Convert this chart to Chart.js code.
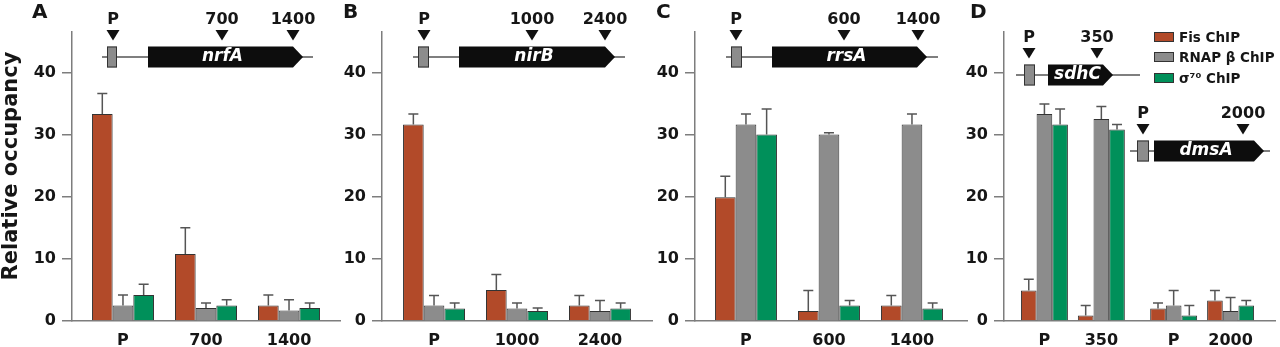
<!DOCTYPE html>
<html lang="en">
<head>
<meta charset="UTF-8">
<title>Relative occupancy – Fis, RNAP β and σ70 ChIP</title>
<script src="https://cdn.jsdelivr.net/npm/chart.js"></script>
<style>
  html, body { margin: 0; padding: 0; background: #fff; overflow: hidden; }
  #wrap { position: relative; width: 1280px; height: 347px; }
  #wrap canvas { position: absolute; left: 0; top: 0; }
</style>
</head>
<body>
<div id="wrap">
  <canvas id="chart-a" width="1280" height="347"></canvas>
  <canvas id="chart-b" width="1280" height="347"></canvas>
  <canvas id="chart-c" width="1280" height="347"></canvas>
  <canvas id="chart-d" width="1280" height="347"></canvas>
</div>
<script>
// series
const seriesNames = ['Fis ChIP', 'RNAP β ChIP', 'σ⁷⁰ ChIP'];
const seriesColors = ['#b24a29', '#8c8c8c', '#00905a'];
const yTicksMax = 40;

// panel A - nrfA
const labelsA = ['P', '700', '1400'];
const fisA = [33.3, 10.8, 2.5];
const rnapA = [2.5, 2.1, 1.7];
const sigmaA = [4.2, 2.5, 2.1];
const fisErrA = [3.3, 4.2, 1.7];
const rnapErrA = [1.7, 0.8, 1.7];
const sigmaErrA = [1.7, 0.9, 0.8];

// panel B - nirB
const labelsB = ['P', '1000', '2400'];
const fisB = [31.6, 5.0, 2.5];
const rnapB = [2.5, 2.0, 1.6];
const sigmaB = [2.0, 1.6, 2.0];
const fisErrB = [1.7, 2.5, 1.6];
const rnapErrB = [1.6, 0.9, 1.7];
const sigmaErrB = [0.9, 0.5, 0.9];

// panel C - rrsA
const labelsC = ['P', '600', '1400'];
const fisC = [19.9, 1.6, 2.5];
const rnapC = [31.6, 30.0, 31.6];
const sigmaC = [30.0, 2.5, 2.0];
const fisErrC = [3.4, 3.3, 1.6];
const rnapErrC = [1.7, 0.3, 1.7];
const sigmaErrC = [4.1, 0.8, 0.9];

// panel D - sdhC (P, 350) and dmsA (P, 2000)
const labelsD = ['P', '350', 'P', '2000'];
const fisD = [4.9, 0.9, 2.0, 3.3];
const rnapD = [33.3, 32.5, 2.5, 1.6];
const sigmaD = [31.6, 30.8, 0.9, 2.5];
const fisErrD = [1.8, 1.6, 0.9, 1.6];
const rnapErrD = [1.6, 2.0, 2.4, 2.2];
const sigmaErrD = [2.5, 0.8, 1.6, 0.8];

const FONT = 'DejaVu Sans';
const axisColor = '#7d7d7d';
const textColor = '#161616';

// layout of the four panels (page pixels)
const panels = [
  { id: 'chart-a', letter: 'A', letterX: 32, labels: labelsA,
    values: [fisA, rnapA, sigmaA], errors: [fisErrA, rnapErrA, sigmaErrA],
    axisLeft: 72, axisRight: 340, xMin: -0.614, xMax: 2.614, gap: 0, group: 0.747, yTitle: true,
    genes: [{ name: 'nrfA', y: 57, line: [102, 313], box: [107, 117], body: [148, 303],
              marks: [[113, 0], [222, 1], [293, 2]] }] },
  { id: 'chart-b', letter: 'B', letterX: 343, labels: labelsB,
    values: [fisB, rnapB, sigmaB], errors: [fisErrB, rnapErrB, sigmaErrB],
    axisLeft: 382, axisRight: 652, xMin: -0.627, xMax: 2.627, gap: 0, group: 0.747,
    genes: [{ name: 'nirB', y: 57, line: [413, 625], box: [418, 429], body: [459, 615],
              marks: [[424, 0], [532, 1], [605, 2]] }] },
  { id: 'chart-c', letter: 'C', letterX: 656, labels: labelsC,
    values: [fisC, rnapC, sigmaC], errors: [fisErrC, rnapErrC, sigmaErrC],
    axisLeft: 695, axisRight: 967, xMin: -0.614, xMax: 2.663, gap: 0, group: 0.747,
    genes: [{ name: 'rrsA', y: 57, line: [726, 938], box: [731, 742], body: [772, 927],
              marks: [[736, 0], [844, 1], [918, 2]] }] },
  { id: 'chart-d', letter: 'D', letterX: 970, labels: labelsD,
    values: [fisD, rnapD, sigmaD], errors: [fisErrD, rnapErrD, sigmaErrD],
    axisLeft: 1004, axisRight: 1275, xMin: -0.71, xMax: 4.05, gap: 0.27, group: 0.825, legend: true,
    genes: [{ name: 'sdhC', y: 75, line: [1016, 1140], box: [1024, 1035], body: [1048, 1113],
              marks: [[1029, 0], [1097, 1]] },
            { name: 'dmsA', y: 151, line: [1130, 1270], box: [1137, 1149], body: [1154, 1264],
              marks: [[1143, 2], [1243, 3]] }] }
];

const errorBarPlugin = {
  id: 'errorBars',
  afterDatasetsDraw(chart) {
    const ctx = chart.ctx;
    const yScale = chart.scales.y;
    ctx.save();
    ctx.strokeStyle = '#555';
    ctx.lineWidth = 1.5;
    chart.data.datasets.forEach((ds, di) => {
      chart.getDatasetMeta(di).data.forEach((bar, i) => {
        const top = yScale.getPixelForValue(ds.data[i].y + ds.errors[i]);
        ctx.beginPath();
        ctx.moveTo(bar.x, bar.y);
        ctx.lineTo(bar.x, top);
        ctx.moveTo(bar.x - 5, top);
        ctx.lineTo(bar.x + 5, top);
        ctx.stroke();
      });
    });
    ctx.restore();
  }
};

function drawGene(ctx, g, labels) {
  const y = g.y;
  ctx.strokeStyle = '#555';
  ctx.lineWidth = 1.5;
  ctx.beginPath();
  ctx.moveTo(g.line[0], y);
  ctx.lineTo(g.line[1], y);
  ctx.stroke();

  // promoter box
  ctx.fillStyle = '#8c8c8c';
  ctx.fillRect(g.box[0], y - 10.5, g.box[1] - g.box[0], 21);
  ctx.strokeStyle = '#333';
  ctx.lineWidth = 1;
  ctx.strokeRect(g.box[0] + 0.5, y - 10, g.box[1] - g.box[0] - 1, 20);

  // gene arrow
  const [b0, b1] = g.body;
  ctx.fillStyle = '#0d0d0d';
  ctx.beginPath();
  ctx.moveTo(b0, y - 10.5);
  ctx.lineTo(b1 - 10, y - 10.5);
  ctx.lineTo(b1, y);
  ctx.lineTo(b1 - 10, y + 10.5);
  ctx.lineTo(b0, y + 10.5);
  ctx.closePath();
  ctx.fill();
  ctx.fillStyle = '#fff';
  ctx.font = 'italic bold 17px ' + FONT;
  ctx.textAlign = 'center';
  ctx.textBaseline = 'middle';
  ctx.fillText(g.name, (b0 + b1 - 6) / 2, y);

  // primer position markers
  g.marks.forEach(([x, li]) => {
    ctx.fillStyle = '#111';
    ctx.beginPath();
    ctx.moveTo(x - 6.5, y - 27);
    ctx.lineTo(x + 6.5, y - 27);
    ctx.lineTo(x, y - 16.5);
    ctx.closePath();
    ctx.fill();
    ctx.fillStyle = textColor;
    ctx.font = 'bold 16px ' + FONT;
    ctx.fillText(labels[li], x, y - 37);
  });
}

function drawLegend(ctx) {
  const rows = [37, 57, 78];
  seriesNames.forEach((name, s) => {
    ctx.fillStyle = seriesColors[s];
    ctx.fillRect(1154, rows[s] - 5, 20, 10);
    ctx.strokeStyle = '#333';
    ctx.lineWidth = 1;
    ctx.strokeRect(1154.5, rows[s] - 4.5, 19, 9);
    ctx.fillStyle = textColor;
    ctx.font = 'bold 13.5px ' + FONT;
    ctx.textAlign = 'left';
    ctx.textBaseline = 'middle';
    ctx.fillText(name, 1179, rows[s] + 1);
  });
}

const decorPlugin = {
  id: 'decor',
  afterDraw(chart, args, opts) {
    const ctx = chart.ctx;
    const p = opts.panel;
    ctx.save();
    ctx.fillStyle = textColor;
    ctx.font = 'bold 20px ' + FONT;
    ctx.textAlign = 'left';
    ctx.textBaseline = 'alphabetic';
    ctx.fillText(p.letter, p.letterX, 17.5);

    if (p.yTitle) {
      ctx.save();
      ctx.translate(17, 166);
      ctx.rotate(-Math.PI / 2);
      ctx.font = 'bold 21px ' + FONT;
      ctx.textAlign = 'center';
      ctx.fillText('Relative occupancy', 0, 0);
      ctx.restore();
    }
    p.genes.forEach(g => drawGene(ctx, g, p.labels));
    if (p.legend) drawLegend(ctx);
    ctx.restore();
  }
};

panels.forEach(p => {
  const pos = p.labels.map((_, i) => i + (i >= 2 ? p.gap : 0));
  new Chart(document.getElementById(p.id), {
    type: 'bar',
    data: {
      datasets: seriesNames.map((name, s) => ({
        label: name,
        data: p.values[s].map((v, i) => ({ x: pos[i], y: v })),
        errors: p.errors[s],
        backgroundColor: seriesColors[s],
        borderColor: '#333',
        borderWidth: 1,
        categoryPercentage: p.group,
        barPercentage: 1
      }))
    },
    options: {
      responsive: false,
      animation: false,
      events: [],
      layout: { padding: { left: p.axisLeft - 56, right: 1280 - p.axisRight, top: 32, bottom: 0 } },
      scales: {
        x: {
          type: 'linear',
          min: p.xMin,
          max: p.xMax,
          offset: false,
          bounds: 'data',
          grid: { display: false, drawTicks: false },
          border: { display: true, color: axisColor, width: 1.5 },
          afterBuildTicks: s => { s.ticks = pos.map(v => ({ value: v })); },
          afterFit: s => { s.height = 26; },
          ticks: {
            autoSkip: false, maxRotation: 0, padding: 10, color: textColor,
            font: { family: FONT, size: 16, weight: 'bold' },
            callback: (v, i) => p.labels[i]
          }
        },
        y: {
          min: 0,
          max: 46.5,
          afterFit: s => { s.width = 56; },
          grid: { drawOnChartArea: false, drawTicks: true, tickLength: 10, color: axisColor, lineWidth: 1.5 },
          border: { display: true, color: axisColor, width: 1.5 },
          ticks: {
            stepSize: 10, includeBounds: false, padding: 6, color: textColor,
            font: { family: FONT, size: 16, weight: 'bold' },
            callback: v => (v <= yTicksMax ? v : '')
          }
        }
      },
      plugins: {
        legend: { display: false },
        tooltip: { enabled: false },
        decor: { panel: p }
      }
    },
    plugins: [errorBarPlugin, decorPlugin]
  });
});
</script>
</body>
</html>
